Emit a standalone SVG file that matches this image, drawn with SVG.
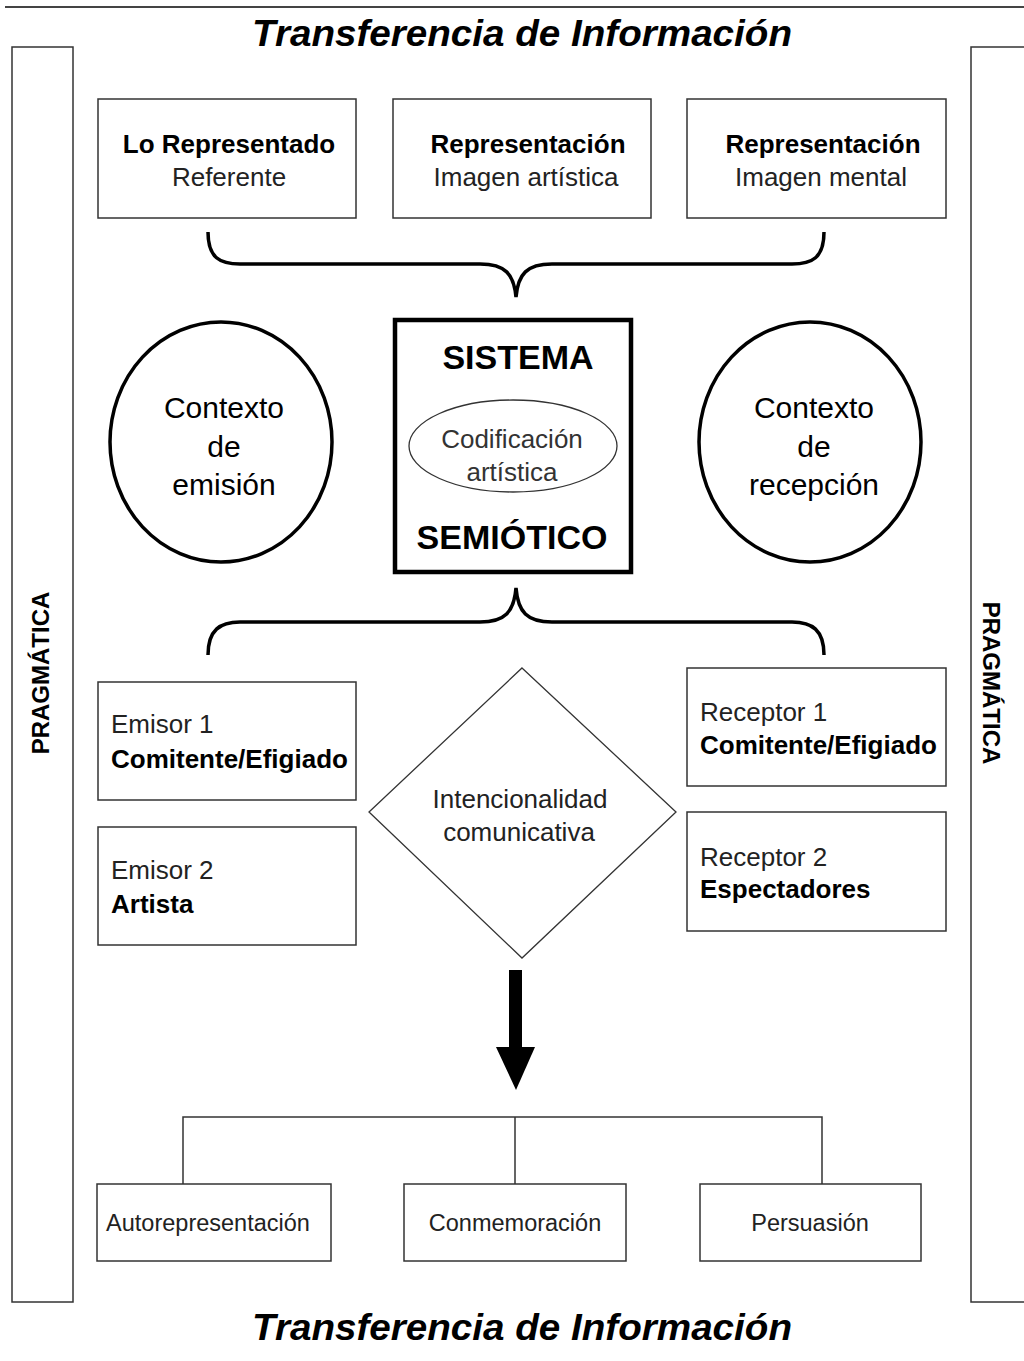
<svg xmlns="http://www.w3.org/2000/svg" width="1024" height="1361" viewBox="0 0 1024 1361">
<style>
text{font-family:"Liberation Sans",Arial,sans-serif;fill:#000}
.title{font-size:37px;font-weight:bold;font-style:italic;text-anchor:middle}
.box{fill:#fff;stroke:#333;stroke-width:1.5}
.b{font-weight:bold}
.t24{font-size:26px}
.t27{font-size:30px;text-anchor:middle}
.c{text-anchor:middle}
.reg{fill:#222}
.side{font-size:24px;font-weight:bold;text-anchor:middle}
.brace{fill:none;stroke:#000;stroke-width:3.5}
.conn{fill:none;stroke:#333;stroke-width:1.5}
.big{font-size:34px;font-weight:bold;text-anchor:middle}
.small{font-size:23.5px;text-anchor:middle;fill:#222}
</style>
<rect width="1024" height="1361" fill="#fff"/>
<line x1="5" y1="7" x2="1024" y2="7" stroke="#444" stroke-width="2"/>
<text class="title" x="522" y="46" textLength="540" lengthAdjust="spacingAndGlyphs">Transferencia de Información</text>
<text class="title" x="522" y="1340" textLength="540" lengthAdjust="spacingAndGlyphs">Transferencia de Información</text>

<g id="pragmatica-left">
<rect x="12" y="47" width="61" height="1255" class="box"/>
<text class="side" transform="translate(49,673) rotate(-90)">PRAGMÁTICA</text>
</g>
<g id="pragmatica-right">
<rect x="971" y="47" width="60" height="1255" class="box"/>
<text class="side" transform="translate(983,683) rotate(90)">PRAGMÁTICA</text>
</g>

<g id="lo-representado">
<rect x="98" y="99" width="258" height="119" class="box"/>
<text class="t24 b c" x="229" y="153">Lo Representado</text>
<text class="t24 c reg" x="229" y="186">Referente</text>
</g>
<g id="representacion-artistica">
<rect x="393" y="99" width="258" height="119" class="box"/>
<text class="t24 b c" x="528" y="153">Representación</text>
<text class="t24 c reg" x="526" y="186">Imagen artística</text>
</g>
<g id="representacion-mental">
<rect x="687" y="99" width="259" height="119" class="box"/>
<text class="t24 b c" x="823" y="153">Representación</text>
<text class="t24 c reg" x="821" y="186">Imagen mental</text>
</g>

<g id="contexto-emision">
<ellipse cx="221" cy="442" rx="111" ry="120" fill="#fff" stroke="#000" stroke-width="3.5"/>
<text class="t27" x="224" y="418">Contexto</text>
<text class="t27" x="224" y="457">de</text>
<text class="t27" x="224" y="495">emisión</text>
</g>
<g id="contexto-recepcion">
<ellipse cx="810" cy="442" rx="111" ry="120" fill="#fff" stroke="#000" stroke-width="3.5"/>
<text class="t27" x="814" y="418">Contexto</text>
<text class="t27" x="814" y="457">de</text>
<text class="t27" x="814" y="495">recepción</text>
</g>

<g id="sistema-semiotico">
<rect x="395" y="320" width="236" height="252" fill="#fff" stroke="#000" stroke-width="4.5"/>
<text class="big" x="518" y="369">SISTEMA</text>
<text class="big" x="512" y="549">SEMIÓTICO</text>
<ellipse cx="513" cy="446" rx="104" ry="46" fill="none" stroke="#333" stroke-width="1.3"/>
<text class="t24 c" style="fill:#333" x="512" y="448">Codificación</text>
<text class="t24 c" style="fill:#333" x="512" y="481">artística</text>
</g>

<g id="emisor-1">
<rect x="98" y="682" width="258" height="118" class="box"/>
<text class="t24 reg" x="111" y="733">Emisor 1</text>
<text class="t24 b" x="111" y="768">Comitente/Efigiado</text>
</g>
<g id="emisor-2">
<rect x="98" y="827" width="258" height="118" class="box"/>
<text class="t24 reg" x="111" y="879">Emisor 2</text>
<text class="t24 b" x="111" y="913">Artista</text>
</g>
<g id="receptor-1">
<rect x="687" y="668" width="259" height="118" class="box"/>
<text class="t24 reg" x="700" y="721">Receptor 1</text>
<text class="t24 b" x="700" y="754">Comitente/Efigiado</text>
</g>
<g id="receptor-2">
<rect x="687" y="812" width="259" height="119" class="box"/>
<text class="t24 reg" x="700" y="866">Receptor 2</text>
<text class="t24 b" x="700" y="898">Espectadores</text>
</g>

<g id="intencionalidad">
<polygon points="522,668 676,812 522,958 369,812" fill="#fff" stroke="#333" stroke-width="1.3"/>
<text class="t24 c reg" x="520" y="808">Intencionalidad</text>
<text class="t24 c reg" x="519" y="841">comunicativa</text>
</g>

<g id="autorepresentacion">
<rect x="97" y="1184" width="234" height="77" class="box"/>
<text class="small" x="208" y="1231">Autorepresentación</text>
</g>
<g id="conmemoracion">
<rect x="404" y="1184" width="222" height="77" class="box"/>
<text class="small" x="515" y="1231">Conmemoración</text>
</g>
<g id="persuasion">
<rect x="700" y="1184" width="221" height="77" class="box"/>
<text class="small" x="810" y="1231">Persuasión</text>
</g>

<g id="connectors">
<path class="brace" d="M208,232 C208,258 220,264 240,264 L480,264 C505,264 514,274 516,297 C518,274 527,264 552,264 L792,264 C812,264 824,258 824,232"/>
<path class="brace" d="M208,655 C208,630 220,622 240,622 L480,622 C505,622 514,612 516,588 C518,612 527,622 552,622 L792,622 C812,622 824,630 824,655"/>
<rect x="509" y="970" width="13" height="78" fill="#000"/>
<polygon points="496,1047 535,1047 516,1090" fill="#000"/>
<path class="conn" d="M183,1184 V1117 H822 V1184 M515,1117 V1184"/>
</g>
</svg>
